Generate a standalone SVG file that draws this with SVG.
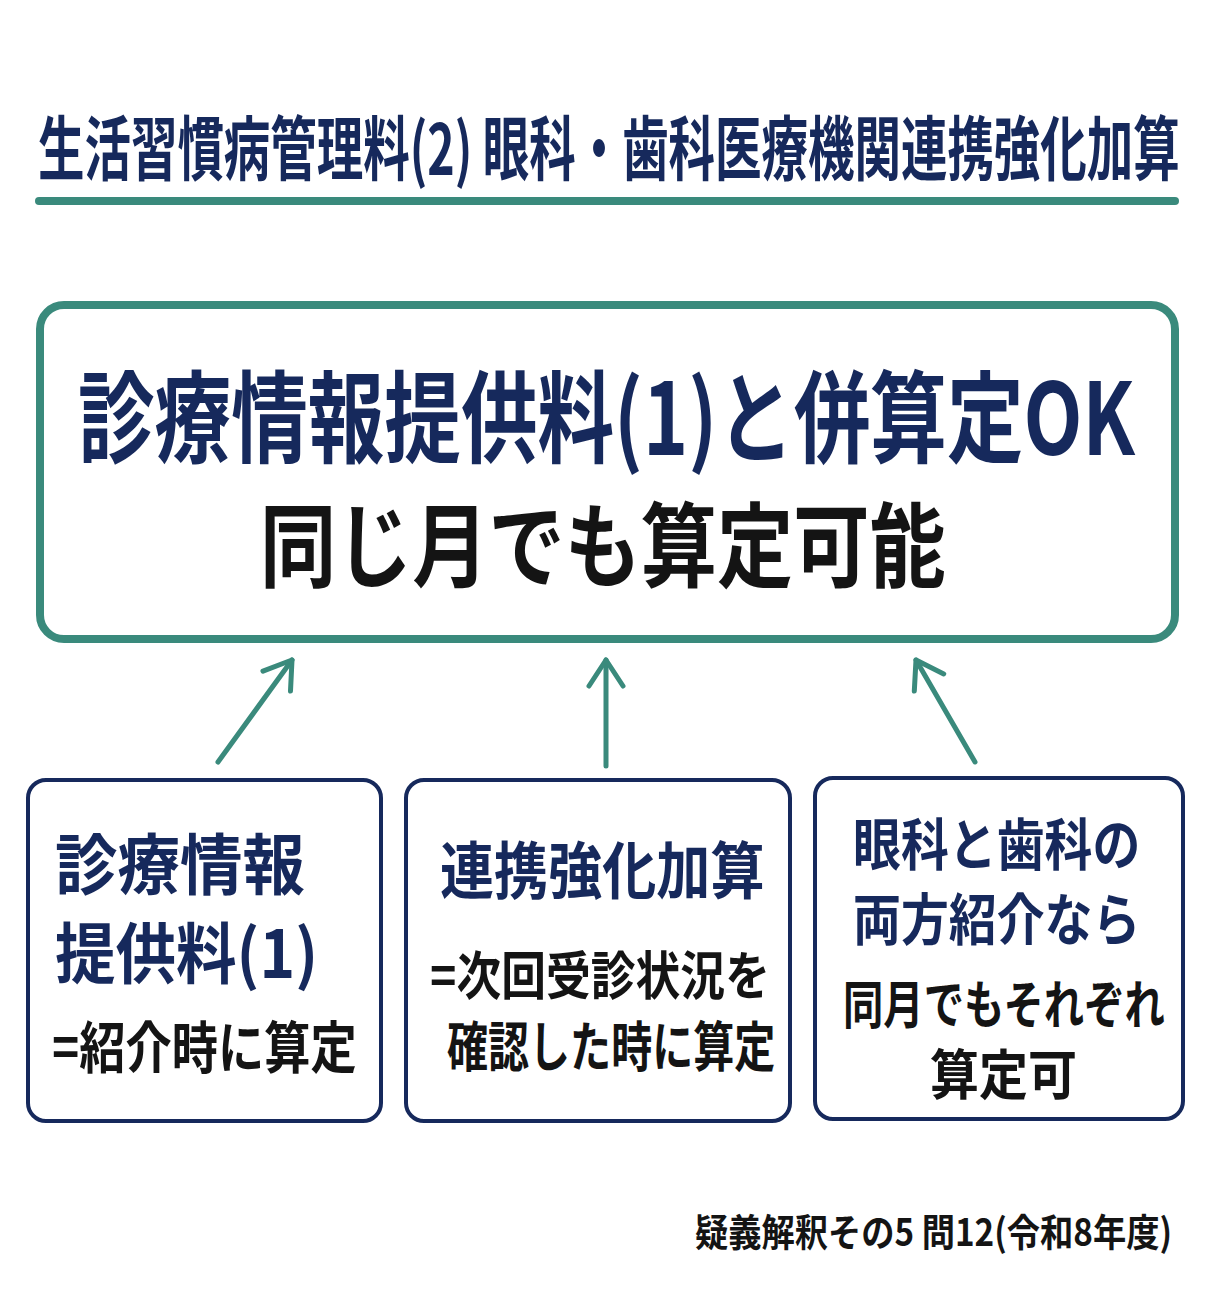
<svg xmlns="http://www.w3.org/2000/svg" width="1214" height="1295" viewBox="0 0 1214 1295">
<style>
text{font-family:"Noto Sans CJK JP","Noto Sans",sans-serif;font-weight:700}
.navy{fill:#16295c}
.blk{fill:#141414}
.conn{stroke:#3a8a7c;stroke-width:5;fill:none;stroke-linecap:round}
.sub{fill:#fff;stroke:#16295c;stroke-width:4}
</style>
<defs>
<marker id="chev" markerUnits="userSpaceOnUse" viewBox="-30 -20 34 40" refX="0" refY="0" markerWidth="34" markerHeight="40" orient="auto">
<path d="M-26,-17 L0,0 L-26,17" fill="none" stroke="#3a8a7c" stroke-width="5" stroke-linecap="round" stroke-linejoin="round"/>
</marker>
</defs>
<rect width="1214" height="1295" fill="#fff"/>
<g id="title">
<text class="navy" transform="translate(38,175) scale(0.67,1)" x="0" y="0" font-size="70" textLength="1704" lengthAdjust="spacingAndGlyphs">生活習慣病管理料(2) 眼科・歯科医療機関連携強化加算</text>
<rect x="35" y="197" width="1144" height="8" rx="4" fill="#3a8a7c"/>
</g>
<g id="main">
<rect x="40" y="305" width="1135" height="334" rx="24" fill="#fff" stroke="#3a8a7c" stroke-width="8"/>
<text class="navy" transform="translate(78,455) scale(0.73,1)" x="0" y="0" font-size="100" textLength="1448" lengthAdjust="spacingAndGlyphs">診療情報提供料(1)と併算定OK</text>
<text class="blk" transform="translate(260,580) scale(0.83,1)" x="0" y="0" font-size="92" textLength="826" lengthAdjust="spacingAndGlyphs">同じ月でも算定可能</text>
</g>
<g id="connectors">
<line class="conn" x1="218" y1="762" x2="292" y2="660" marker-end="url(#chev)"/>
<line class="conn" x1="606" y1="766" x2="606" y2="660" marker-end="url(#chev)"/>
<line class="conn" x1="975" y1="762" x2="916" y2="660" marker-end="url(#chev)"/>
</g>
<g id="box1">
<rect class="sub" x="28" y="780" width="353" height="341" rx="18"/>
<text class="navy" transform="translate(55,889) scale(0.95,1)" x="0" y="0" font-size="66" textLength="263" lengthAdjust="spacingAndGlyphs">診療情報</text>
<text class="navy" transform="translate(55,978) scale(0.96,1)" x="0" y="0" font-size="66" textLength="274" lengthAdjust="spacingAndGlyphs">提供料(1)</text>
<text class="blk" transform="translate(52,1068) scale(0.83,1)" x="0" y="0" font-size="56" textLength="367" lengthAdjust="spacingAndGlyphs">=紹介時に算定</text>
</g>
<g id="box2">
<rect class="sub" x="406" y="780" width="384" height="341" rx="18"/>
<text class="navy" transform="translate(440,894) scale(0.87,1)" x="0" y="0" font-size="62" textLength="373" lengthAdjust="spacingAndGlyphs">連携強化加算</text>
<text class="blk" transform="translate(430,995) scale(0.865,1)" x="0" y="0" font-size="52" textLength="393" lengthAdjust="spacingAndGlyphs">=次回受診状況を</text>
<text class="blk" transform="translate(447,1067) scale(0.76,1)" x="0" y="0" font-size="54" textLength="432" lengthAdjust="spacingAndGlyphs">確認した時に算定</text>
</g>
<g id="box3">
<rect class="sub" x="815" y="778" width="368" height="341" rx="18"/>
<text class="navy" transform="translate(853,865) scale(0.855,1)" x="0" y="0" font-size="56" textLength="336" lengthAdjust="spacingAndGlyphs">眼科と歯科の</text>
<text class="navy" transform="translate(853,940) scale(0.855,1)" x="0" y="0" font-size="56" textLength="336" lengthAdjust="spacingAndGlyphs">両方紹介なら</text>
<text class="blk" transform="translate(843,1024) scale(0.745,1)" x="0" y="0" font-size="52" textLength="432" lengthAdjust="spacingAndGlyphs">同月でもそれぞれ</text>
<text class="blk" transform="translate(930,1095) scale(0.875,1)" x="0" y="0" font-size="54" textLength="168" lengthAdjust="spacingAndGlyphs">算定可</text>
</g>
<g id="footer">
<text class="blk" transform="translate(695,1246) scale(0.89,1)" x="0" y="0" font-size="38" textLength="536" lengthAdjust="spacingAndGlyphs">疑義解釈その5 問12(令和8年度)</text>
</g>
</svg>
